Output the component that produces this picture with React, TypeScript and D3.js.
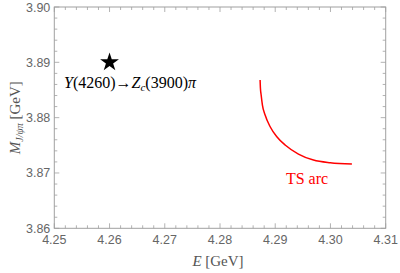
import React from 'react';
import * as d3 from 'd3';

// TS arc
const arcE = [4.28726, 4.28732, 4.28745, 4.28768, 4.28817, 4.28908, 4.29029, 4.29179, 4.2942, 4.29692, 4.29995, 4.30388];
const arcM = [3.8868, 3.8853, 3.88409, 3.88228, 3.88047, 3.87835, 3.87655, 3.87505, 3.87342, 3.87233, 3.87184, 3.87161];

const xTicks = [4.25, 4.26, 4.27, 4.28, 4.29, 4.30, 4.31];
const yTicks = [3.86, 3.87, 3.88, 3.89, 3.90];

const starPoint = { e: 4.26, m: 3.89 };

const serif = "'Liberation Serif', 'Times New Roman', serif";
const sans = "'Liberation Sans', Arial, sans-serif";

const App = () => {
  const width = 400;
  const height = 273;
  const left = 54.3, right = 385.7, top = 7, bottom = 228.3;

  const x = d3.scaleLinear().domain([4.25, 4.31]).range([left, right]);
  const y = d3.scaleLinear().domain([3.86, 3.90]).range([bottom, top]);

  const xMinor = d3.range(4.25, 4.3101, 0.002);
  const yMinor = d3.range(3.86, 3.9001, 0.002);

  const line = d3.line<number>()
    .x((d, i) => x(arcE[i]))
    .y((d) => y(d))
    .curve(d3.curveMonotoneX);

  const star = d3.symbol().type(d3.symbolStar).size(110)();

  const axisColor = '#a0a0a0';
  const labelColor = '#666';
  const isMajor = (v: number, ticks: number[]) => ticks.some(t => Math.abs(t - v) < 1e-6);

  return (
    <svg width={width} height={height} style={{ position: 'absolute', left: 0, top: 0 }}>
      <rect x={left} y={top} width={right - left} height={bottom - top} fill="none" stroke={axisColor} strokeWidth={1} />
      {xMinor.map((v, i) => {
        const len = isMajor(v, xTicks) ? 5 : 3;
        return (
          <g key={'xm' + i} stroke={axisColor} strokeWidth={0.8}>
            <line x1={x(v)} x2={x(v)} y1={bottom} y2={bottom - len} />
            <line x1={x(v)} x2={x(v)} y1={top} y2={top + len} />
          </g>
        );
      })}
      {yMinor.map((v, i) => {
        const len = isMajor(v, yTicks) ? 5 : 3;
        return (
          <g key={'ym' + i} stroke={axisColor} strokeWidth={0.8}>
            <line x1={left} x2={left + len} y1={y(v)} y2={y(v)} />
            <line x1={right} x2={right - len} y1={y(v)} y2={y(v)} />
          </g>
        );
      })}
      {xTicks.map(t => (
        <text key={'xt' + t} x={x(t)} y={244} textAnchor="middle" fontFamily={sans} fontSize={12.5} fill={labelColor}>
          {t.toFixed(2)}
        </text>
      ))}
      {yTicks.map(t => (
        <text key={'yt' + t} x={left - 4} y={y(t) + 4.5} textAnchor="end" fontFamily={sans} fontSize={12.5} fill={labelColor}>
          {t.toFixed(2)}
        </text>
      ))}
      <text x={218} y={266} textAnchor="middle" fontFamily={serif} fontSize={15} fill="#555">
        <tspan fontStyle="italic">E</tspan> [GeV]
      </text>
      <text transform={`translate(20, ${(top + bottom) / 2}) rotate(-90)`} textAnchor="middle" fontFamily={serif} fontSize={15} fill="#555">
        <tspan fontStyle="italic">M</tspan>
        <tspan fontStyle="italic" fontSize={10} dy={3}>J/ψπ</tspan>
        <tspan dy={-3}> [GeV]</tspan>
      </text>
      <path d={line(arcM) || ''} fill="none" stroke="#ff0000" strokeWidth={1.5} />
      <text x={307} y={184} textAnchor="middle" fontFamily={serif} fontSize={16} fill="#ff0000">TS arc</text>
      <path d={star || ''} transform={`translate(${x(starPoint.e)}, ${y(starPoint.m)})`} fill="#000" />
      <text x={130} y={88} textAnchor="middle" fontFamily={serif} fontSize={16} fill="#000">
        <tspan fontStyle="italic">Y</tspan>(4260)→<tspan fontStyle="italic">Z</tspan><tspan fontStyle="italic" fontSize={11} dy={3}>c</tspan><tspan dy={-3}>(3900)</tspan><tspan fontStyle="italic">π</tspan>
      </text>
    </svg>
  );
};

export default App;
